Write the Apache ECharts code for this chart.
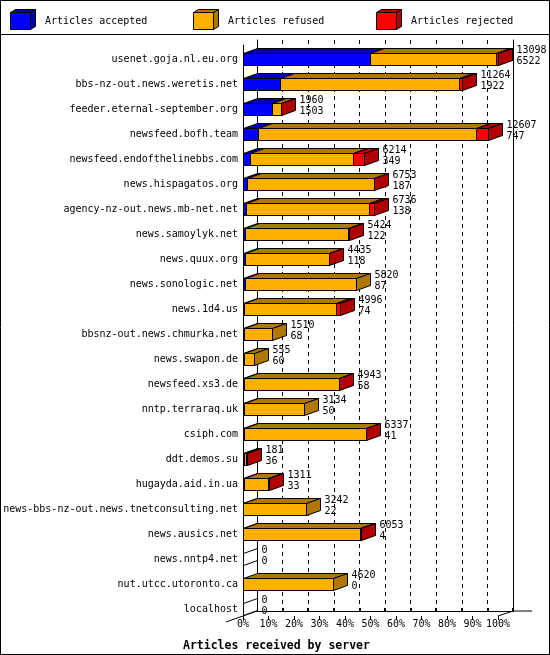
<!DOCTYPE html>
<html>
<head>
<meta charset="utf-8">
<script src="https://cdn.jsdelivr.net/npm/echarts@6/dist/echarts.min.js"></script>
<style>
  html, body { margin: 0; padding: 0; background: #fff; }
  #chart { width: 550px; height: 655px; }
</style>
</head>
<body>
<div id="chart"></div>
<script>
// 服务器名
const servers = [
  'usenet.goja.nl.eu.org', 'bbs-nz-out.news.weretis.net', 'feeder.eternal-september.org',
  'newsfeed.bofh.team', 'newsfeed.endofthelinebbs.com', 'news.hispagatos.org',
  'agency-nz-out.news.mb-net.net', 'news.samoylyk.net', 'news.quux.org',
  'news.sonologic.net', 'news.1d4.us', 'bbsnz-out.news.chmurka.net', 'news.swapon.de',
  'newsfeed.xs3.de', 'nntp.terraraq.uk', 'csiph.com', 'ddt.demos.su', 'hugayda.aid.in.ua',
  'news-bbs-nz-out.news.tnetconsulting.net', 'news.ausics.net', 'news.nntp4.net',
  'nut.utcc.utoronto.ca', 'localhost',
]
// 文章总数 / 接收 / 拒绝(refused) / 拒收(rejected)
const totals = [13098, 11264, 1960, 12607, 6214, 6753, 6736, 5424, 4435, 5820, 4996, 1510, 555,
  4943, 3134, 6337, 181, 1311, 3242, 6053, 0, 4620, 0]
const accepted = [6522, 1922, 1503, 747, 349, 187, 138, 122, 118, 87, 74, 68, 60,
  58, 50, 41, 36, 33, 22, 4, 0, 0, 0]
const refused = [6496, 9192, 442, 11210, 5315, 6526, 6358, 5282, 4297, 5733, 4722, 1442, 495,
  4865, 3084, 6276, 130, 1268, 3220, 6029, 0, 4620, 0]
const rejected = [80, 150, 15, 650, 550, 40, 240, 20, 20, 0, 200, 0, 0,
  20, 0, 20, 15, 10, 0, 20, 0, 0, 0]
const xTicks = [0, 10, 20, 30, 40, 50, 60, 70, 80, 90, 100]

const legendNames = ['Articles accepted', 'Articles refused', 'Articles rejected']
const colors = ['#0000ff', '#ffb000', '#ff0000']
const darkColors = ['#0000b0', '#b07800', '#b00000']

const FONT = '"DejaVu Sans Mono", monospace'
const DX = 14, DY = 5

let maxTotal = Math.max(...totals)
let pct = (v) => (v / maxTotal) * 100
let barData = servers.map((s, i) => [
  i, pct(accepted[i]), pct(refused[i]), pct(rejected[i]), totals[i], accepted[i],
])

let chart = echarts.init(document.getElementById('chart'), null, { renderer: 'canvas' })

// 3D 条形
function renderBar(params, api) {
  let i = api.value(0)
  let base = api.coord([0, i])
  let cy = Math.round(base[1]) + 0.5
  let top = cy - 6, bot = cy + 6
  let parts = [api.value(1), api.value(2), api.value(3)]
  let children = []
  let start = 0, last = -1
  parts.forEach((v, k) => {
    if (v <= 0) return
    let xa = Math.round(api.coord([start, i])[0]) + 0.5
    let xb = Math.round(api.coord([start + v, i])[0]) + 0.5
    start += v
    children.push({
      type: 'polygon',
      shape: { points: [[xa, top], [xb, top], [xb + DX, top - DY], [xa + DX, top - DY]] },
      style: { fill: darkColors[k], stroke: '#000', lineWidth: 1 },
    })
    children.push({
      type: 'rect',
      shape: { x: xa, y: top, width: xb - xa, height: bot - top },
      style: { fill: colors[k], stroke: '#000', lineWidth: 1 },
    })
    last = k
  })
  let xe = Math.round(api.coord([start, i])[0]) + 0.5
  children.push({
    type: 'polygon',
    shape: { points: [[xe, top], [xe + DX, top - DY], [xe + DX, bot - DY], [xe, bot]] },
    style: { fill: last < 0 ? '#fff' : darkColors[last], stroke: '#000', lineWidth: 1 },
  })
  children.push({
    type: 'text',
    x: xe + DX + 4,
    y: cy - 3.5,
    style: {
      text: api.value(4) + '\n' + api.value(5),
      fill: '#000',
      font: '10px ' + FONT,
      align: 'left',
      verticalAlign: 'middle',
      lineHeight: 11,
    },
  })
  return { type: 'group', children }
}

// 图例
function legendGraphic() {
  let items = []
  legendNames.forEach((name, k) => {
    let x = 10.5 + k * 183, y = 12.5, w = 20, h = 17
    items.push({
      type: 'polygon',
      shape: { points: [[x, y], [x + w, y], [x + w + 5, y - 3], [x + 5, y - 3]] },
      style: { fill: darkColors[k], stroke: '#000', lineWidth: 1 },
    })
    items.push({
      type: 'polygon',
      shape: { points: [[x + w, y], [x + w + 5, y - 3], [x + w + 5, y + h - 3], [x + w, y + h]] },
      style: { fill: darkColors[k], stroke: '#000', lineWidth: 1 },
    })
    items.push({
      type: 'rect',
      shape: { x, y, width: w, height: h },
      style: { fill: colors[k], stroke: '#000', lineWidth: 1 },
    })
    items.push({
      type: 'text',
      x: x + 34.5,
      y: 21,
      style: { text: name, fill: '#000', font: '10px ' + FONT, verticalAlign: 'middle' },
    })
  })
  return items
}

chart.setOption({
  animation: false,
  backgroundColor: '#fff',
  title: {
    text: 'Articles received by server',
    left: 178,
    top: 635,
    textStyle: { fontFamily: FONT, fontWeight: 'bold', fontSize: 11.5, color: '#000' },
  },
  grid: [
    { left: 243, width: 255, top: 46.5, height: 575, outerBoundsMode: 'none' },
    { left: 257, width: 256, top: 40, bottom: 44, outerBoundsMode: 'none' },
    { left: 243, width: 255, top: 45, bottom: 39, outerBoundsMode: 'none' },
  ],
  xAxis: [
    { gridIndex: 0, type: 'value', min: 0, max: 100, show: false },
    {
      gridIndex: 1, type: 'value', min: 0, max: 100, interval: 10,
      axisLine: { show: true, lineStyle: { color: '#000', width: 1 } },
      axisTick: { show: true, inside: true, length: 3, lineStyle: { color: '#000', width: 2 } },
      axisLabel: { show: false },
      splitLine: { show: true, lineStyle: { color: '#000', type: [4, 4], width: 1 } },
    },
    {
      gridIndex: 2, type: 'value', min: 0, max: 100, interval: 10,
      axisLine: { show: false },
      axisTick: { show: true, length: 4, lineStyle: { color: '#000' } },
      splitLine: { show: false },
      axisLabel: {
        formatter: '{value}%', color: '#000', fontFamily: FONT, fontSize: 10, margin: 3,
        customValues: xTicks,
      },
    },
  ],
  yAxis: [
    {
      gridIndex: 0, type: 'category', data: servers, inverse: true,
      axisLine: { show: false }, axisTick: { show: false },
      axisLabel: { color: '#000', fontFamily: FONT, fontSize: 10, margin: 5 },
    },
    {
      gridIndex: 1, type: 'value', min: 0, max: 1, position: 'left',
      axisLine: { show: true, lineStyle: { color: '#000' } },
      axisTick: { show: false }, axisLabel: { show: false }, splitLine: { show: false },
    },
    {
      gridIndex: 1, type: 'value', min: 0, max: 1, position: 'right',
      axisLine: { show: true, lineStyle: { color: '#000' } },
      axisTick: { show: false }, axisLabel: { show: false }, splitLine: { show: false },
    },
    {
      gridIndex: 2, type: 'value', min: 0, max: 1, position: 'left',
      axisLine: { show: true, lineStyle: { color: '#000' } },
      axisTick: { show: false }, axisLabel: { show: false }, splitLine: { show: false },
    },
  ],
  series: [
    {
      type: 'custom',
      xAxisIndex: 0,
      yAxisIndex: 0,
      clip: false,
      renderItem: renderBar,
      data: barData,
    },
  ],
})

// 边框、图例和底部斜线
let backL = chart.convertToPixel({ gridIndex: 1 }, [0, 0])
let backR = chart.convertToPixel({ gridIndex: 1 }, [100, 0])
let frontR = chart.convertToPixel({ gridIndex: 2 }, [100, 0])
let line = (x1, y1, x2, y2) => ({
  type: 'line',
  shape: { x1, y1, x2, y2 },
  style: { stroke: '#000', lineWidth: 1 },
})

chart.setOption({
  graphic: [
    {
      type: 'rect',
      shape: { x: 0.5, y: 0.5, width: 549, height: 654 },
      style: { fill: 'none', stroke: '#000', lineWidth: 1 },
    },
    line(0, 34.5, 550, 34.5),
    line(backL[0], backL[1], backL[0] - 31, backL[1] + 11),
    line(backR[0], backR[1], frontR[0], frontR[1]),
    line(backR[0], backR[1], backR[0] + 19, backR[1]),
    ...legendGraphic(),
  ],
})
</script>
</body>
</html>
